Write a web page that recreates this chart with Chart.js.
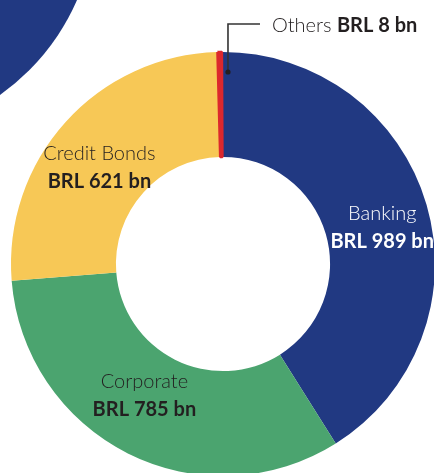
<!DOCTYPE html>
<html><head><meta charset="utf-8">
<style>
html,body{margin:0;padding:0;background:#fff;overflow:hidden;width:434px;height:473px;position:relative}
#deco{position:absolute;left:-360px;top:-319px;width:456px;height:456px;border-radius:50%;background:#213982}
canvas{position:absolute;left:0;top:0}
</style>
<script src="https://cdn.jsdelivr.net/npm/chart.js@4.4.1/dist/chart.umd.min.js"></script>
</head><body>
<div id="deco"></div>
<canvas id="c" width="434" height="473"></canvas>
<script>
// ---- data ----
const categories = ['Banking', 'Corporate', 'Credit Bonds', 'Others'];
const values = [989, 785, 621, 8];
const valueLabels = ['BRL 989 bn', 'BRL 785 bn', 'BRL 621 bn', 'BRL 8 bn'];

// ---- styles ----
const colors = ['#213982', '#4ba46f', '#f7c856', '#dc282d'];
const labelStyle = [
  {dx: 6, dy: 1, color: '#ffffff'},
  {dx: -7, dy: -19, color: '#231f20'},
  {dx: -5, dy: 3, color: '#231f20'},
  null
];
const FONT = 'Lato, "Open Sans", sans-serif';
const LINE_GAP = 28;

const labelPlugin = {
  id: 'sliceLabels',
  afterDatasetsDraw(chart) {
    const ctx = chart.ctx;
    const meta = chart.getDatasetMeta(0);
    ctx.save();
    meta.data.forEach((arc, i) => {
      const p = arc.getProps(['x', 'y', 'startAngle', 'endAngle', 'innerRadius', 'outerRadius'], true);
      const mid = (p.startAngle + p.endAngle) / 2;
      if (labelStyle[i]) {
        const r = (p.innerRadius + p.outerRadius) / 2;
        const cx = p.x + Math.cos(mid) * r + labelStyle[i].dx;
        const cy = p.y + Math.sin(mid) * r + labelStyle[i].dy;
        ctx.fillStyle = labelStyle[i].color;
        ctx.textAlign = 'center';
        ctx.textBaseline = 'alphabetic';
        ctx.font = '300 20px ' + FONT;
        ctx.fillText(categories[i], cx, cy);
        ctx.font = 'bold 20px ' + FONT;
        ctx.fillText(valueLabels[i], cx, cy + LINE_GAP);
      } else {
        // leader for the small slice
        const r = p.outerRadius - 20;
        const ax = p.x + Math.cos(mid) * r + 8;
        const ay = p.y + Math.sin(mid) * r;
        ctx.strokeStyle = '#333333';
        ctx.fillStyle = '#231f20';
        ctx.lineWidth = 1.6;
        ctx.beginPath();
        ctx.moveTo(ax, ay);
        ctx.lineTo(ax, ay - 48);
        ctx.lineTo(ax + 32, ay - 48);
        ctx.stroke();
        ctx.beginPath();
        ctx.arc(ax, ay, 2.6, 0, Math.PI * 2);
        ctx.fill();
        ctx.textAlign = 'left';
        ctx.textBaseline = 'alphabetic';
        ctx.font = '300 20px ' + FONT;
        const tx = ax + 44, ty = ay - 40;
        const first = categories[i] + ' ';
        ctx.fillText(first, tx, ty);
        const w = ctx.measureText(first).width;
        ctx.font = 'bold 20px ' + FONT;
        ctx.fillText(valueLabels[i], tx + w, ty);
      }
    });
    ctx.restore();
  }
};

new Chart(document.getElementById('c'), {
  type: 'doughnut',
  data: {
    labels: categories,
    datasets: [{
      data: values,
      backgroundColor: colors,
      borderColor: colors,
      borderWidth: [0, 0, 0, 2.5],
      clip: false
    }]
  },
  options: {
    responsive: false,
    animation: false,
    devicePixelRatio: 1,
    events: [],
    radius: 212,
    cutout: '50.5%',
    rotation: -0.3,
    layout: {padding: {left: 12, right: 0, top: 55, bottom: 0}},
    plugins: {legend: {display: false}, tooltip: {enabled: false}}
  },
  plugins: [labelPlugin]
});
</script>
</body></html>
